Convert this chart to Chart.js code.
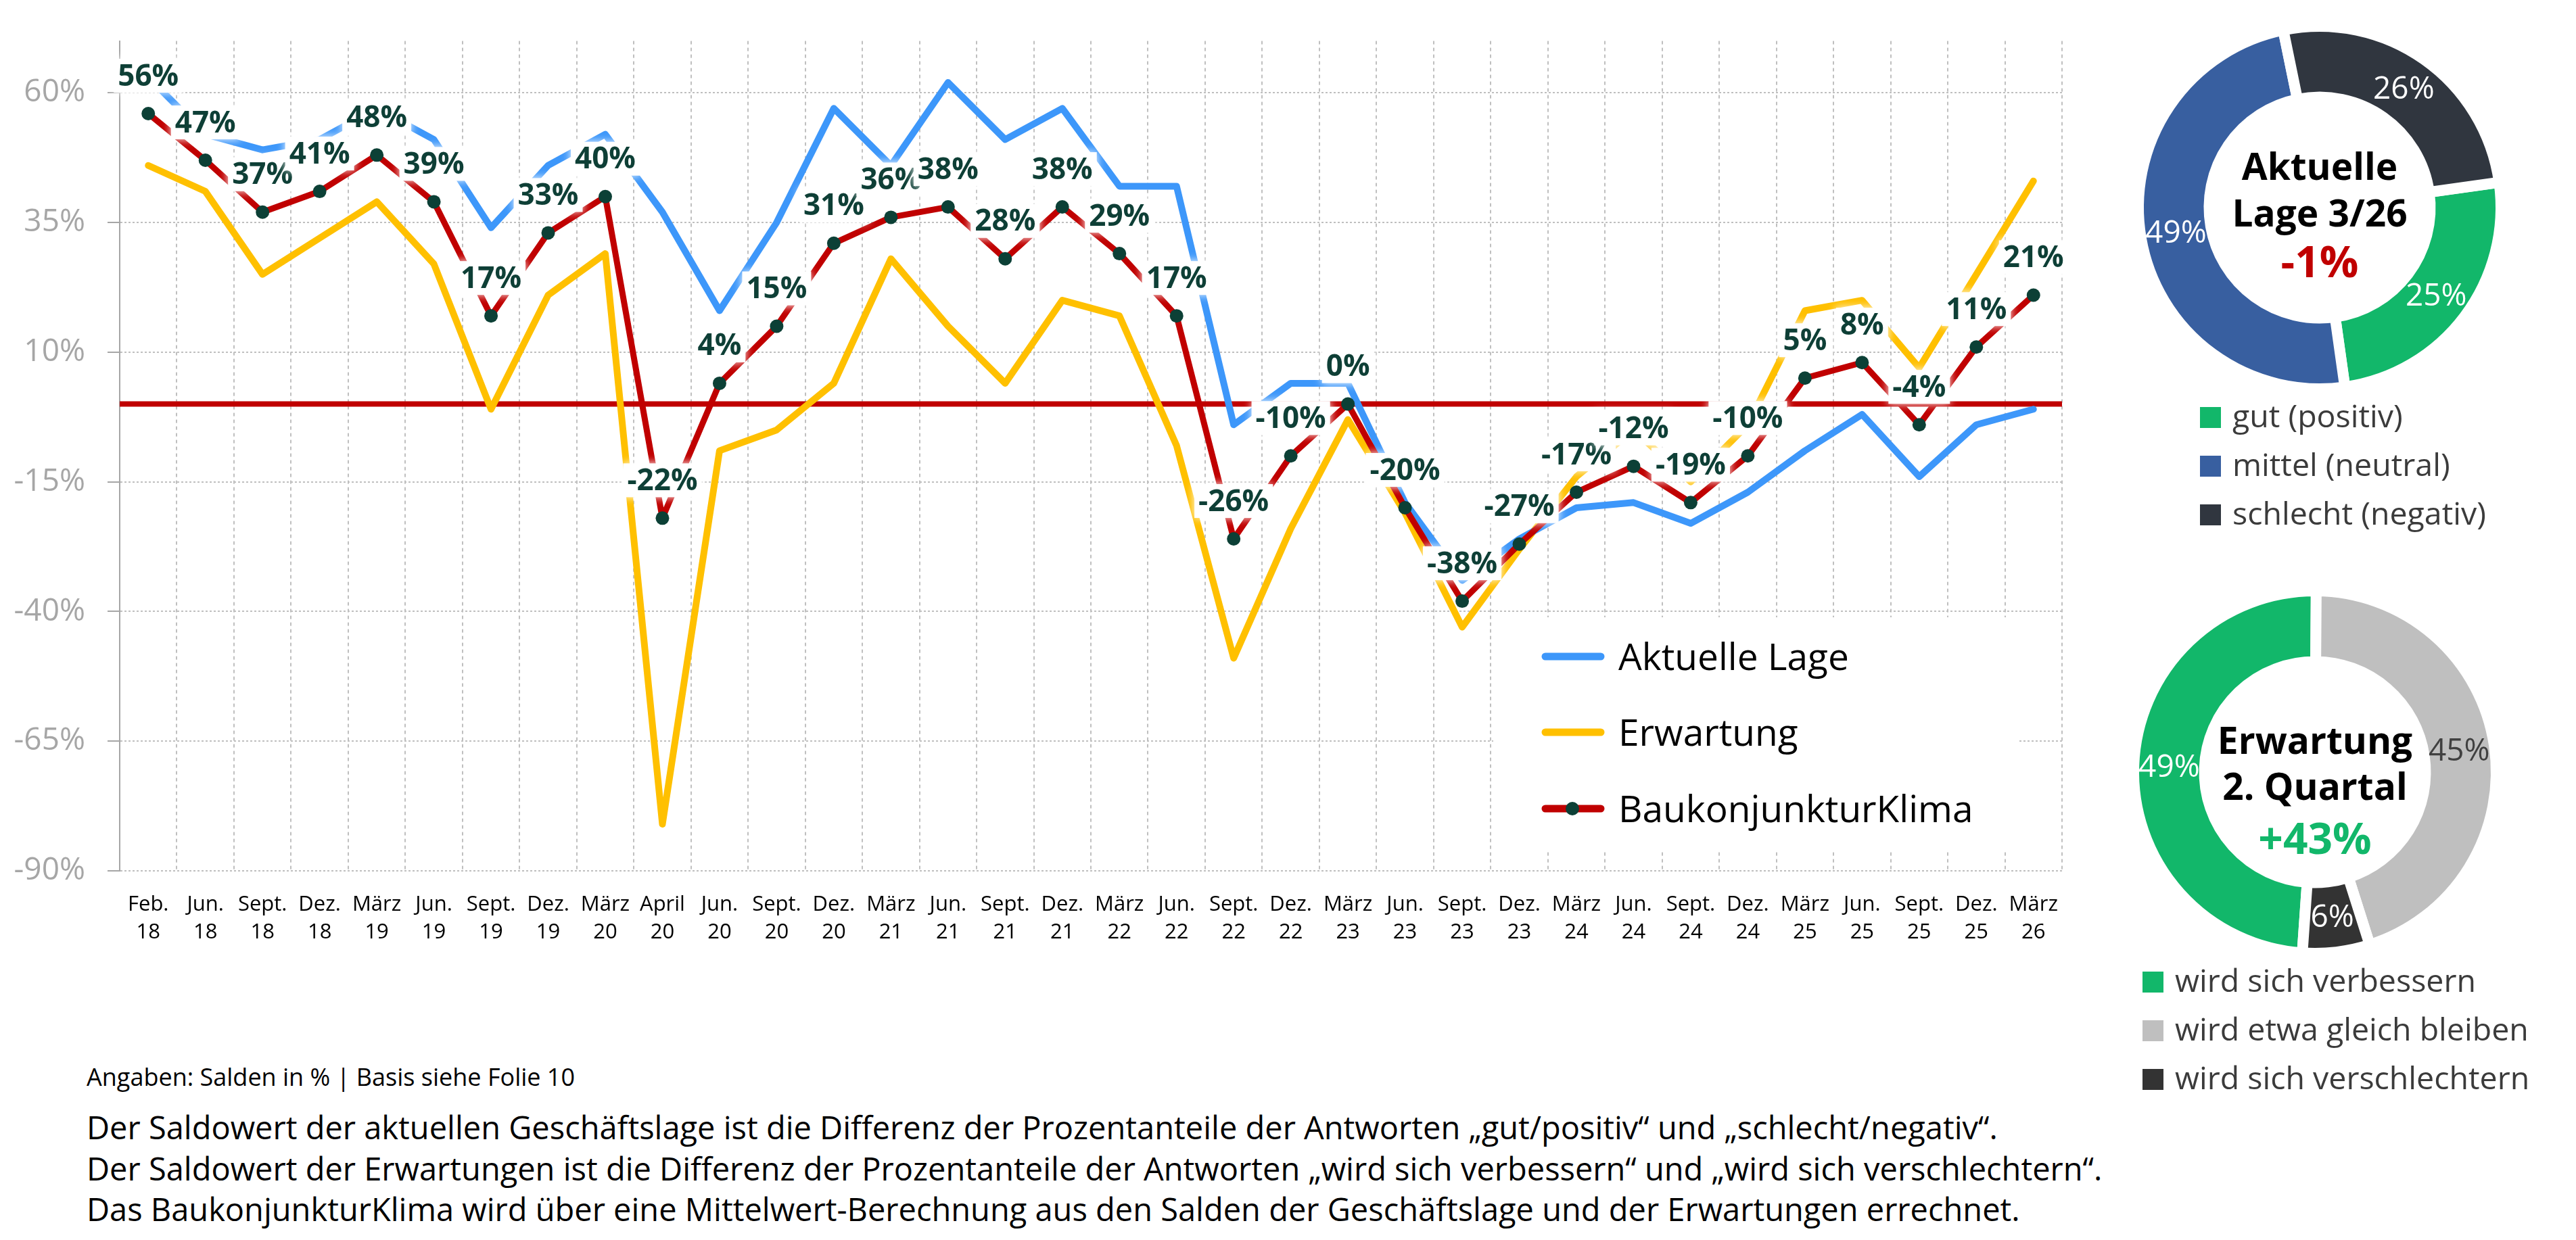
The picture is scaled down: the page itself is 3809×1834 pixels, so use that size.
<!DOCTYPE html>
<html lang="de">
<head>
<meta charset="utf-8">
<title>BaukonjunkturKlima</title>
<script src="https://cdn.jsdelivr.net/npm/chart.js@4.4.1/dist/chart.umd.min.js"></script>
<style>
  html, body { margin: 0; padding: 0; background: #fff; }
  body { width: 3809px; height: 1834px; position: relative; overflow: hidden; font-family: "Open Sans", sans-serif; }
  #hauptChart { position: absolute; left: 0; top: 0; }
  #lageChart { position: absolute; left: 3130px; top: 7px; }
  #erwChart { position: absolute; left: 3123px; top: 842px; }
  .fuss { position: absolute; left: 128px; color: #000; white-space: nowrap; }
  #angaben { top: 1569px; font-size: 36px; line-height: 48px; }
  #erklaerung { top: 1637px; font-size: 47px; line-height: 60.5px; }
</style>
</head>
<body>
<canvas id="hauptChart" width="3100" height="1420"></canvas>
<canvas id="lageChart" width="679" height="800"></canvas>
<canvas id="erwChart" width="686" height="800"></canvas>
<div class="fuss" id="angaben">Angaben: Salden in % | Basis siehe Folie 10</div>
<div class="fuss" id="erklaerung">Der Saldowert der aktuellen Geschäftslage ist die Differenz der Prozentanteile der Antworten „gut/positiv“ und „schlecht/negativ“.<br>Der Saldowert der Erwartungen ist die Differenz der Prozentanteile der Antworten „wird sich verbessern“ und „wird sich verschlechtern“.<br>Das BaukonjunkturKlima wird über eine Mittelwert-Berechnung aus den Salden der Geschäftslage und der Erwartungen errechnet.</div>

<script>
// Daten
const monate = ["Feb.", "Jun.", "Sept.", "Dez.", "März", "Jun.", "Sept.", "Dez.", "März", "April",
  "Jun.", "Sept.", "Dez.", "März", "Jun.", "Sept.", "Dez.", "März", "Jun.", "Sept.",
  "Dez.", "März", "Jun.", "Sept.", "Dez.", "März", "Jun.", "Sept.", "Dez.", "März",
  "Jun.", "Sept.", "Dez.", "März"];
const jahre = ["18", "18", "18", "18", "19", "19", "19", "19", "20", "20",
  "20", "20", "20", "21", "21", "21", "21", "22", "22", "22",
  "22", "23", "23", "23", "23", "24", "24", "24", "24", "25",
  "25", "25", "25", "26"];

const aktuelleLage = [63, 52, 49, 51, 57, 51, 34, 46, 52, 37, 18, 35, 57, 46, 62, 51, 57, 42, 42, -4,
  4, 4, -19, -34, -26, -20, -19, -23, -17, -9, -2, -14, -4, -1];
const erwartung = [46, 41, 25, 32, 39, 27, -1, 21, 29, -81, -9, -5, 4, 28, 15, 4, 20, 17, -8, -49,
  -24, -3, -21, -43, -28, -14, -5, -15, -4, 18, 20, 7, 25, 43];
const klima = [56, 47, 37, 41, 48, 39, 17, 33, 40, -22, 4, 15, 31, 36, 38, 28, 38, 29, 17, -26,
  -10, 0, -20, -38, -27, -17, -12, -19, -10, 5, 8, -4, 11, 21];

const yTicks = [-90, -65, -40, -15, 10, 35, 60];

// Donuts
const lageLabels = ["gut (positiv)", "mittel (neutral)", "schlecht (negativ)"];
const lageWerte = [25, 49, 26];
const lageSaldo = "-1%";
const erwLabels = ["wird sich verbessern", "wird etwa gleich bleiben", "wird sich verschlechtern"];
const erwWerte = [49, 45, 6];
const erwSaldo = "+43%";

// Farben
const BLAU = "#3D97FA";
const GELB = "#FFC000";
const ROT = "#C00000";
const PUNKT = "#0C4036";
const LABEL = "#0E3F36";
const SCHRIFT = '"Open Sans", sans-serif';

// Nulllinie
const nullLinie = {
  id: "nullLinie",
  beforeDatasetsDraw(chart) {
    const { ctx, chartArea, scales } = chart;
    const y = scales.y.getPixelForValue(0);
    ctx.save();
    ctx.strokeStyle = ROT;
    ctx.lineWidth = 8;
    ctx.beginPath();
    ctx.moveTo(chartArea.left, y);
    ctx.lineTo(chartArea.right, y);
    ctx.stroke();
    ctx.restore();
  },
};

// Legende im Diagrammbereich
const innenLegende = {
  id: "innenLegende",
  beforeDatasetsDraw(chart) {
    const { ctx, chartArea } = chart;
    const r = chartArea.right;
    const b = chartArea.bottom;
    ctx.save();
    ctx.fillStyle = "#fff";
    ctx.fillRect(r - 841, b - 375, 778, 343);

    const eintraege = [
      { ds: 1, y: b - 317 },
      { ds: 2, y: b - 205 },
      { ds: 0, y: b - 92 },
    ];
    ctx.font = "55px " + SCHRIFT;
    ctx.textAlign = "left";
    ctx.textBaseline = "alphabetic";
    eintraege.forEach((e) => {
      const ds = chart.data.datasets[e.ds];
      ctx.strokeStyle = ds.borderColor;
      ctx.lineWidth = 11;
      ctx.lineCap = "round";
      ctx.beginPath();
      ctx.moveTo(r - 764, e.y);
      ctx.lineTo(r - 682, e.y);
      ctx.stroke();
      if (ds.pointRadius > 0) {
        ctx.fillStyle = ds.pointBackgroundColor;
        ctx.beginPath();
        ctx.arc(r - 724, e.y, 10, 0, Math.PI * 2);
        ctx.fill();
      }
      ctx.fillStyle = "#000";
      ctx.fillText(ds.label, r - 656, e.y + 20);
    });
    ctx.restore();
  },
};

// Wertbeschriftung der Klima-Linie
const wertLabels = {
  id: "wertLabels",
  afterDatasetsDraw(chart) {
    const ctx = chart.ctx;
    const meta = chart.getDatasetMeta(0);
    ctx.save();
    ctx.font = "bold 44px " + SCHRIFT;
    ctx.textAlign = "center";
    ctx.textBaseline = "middle";
    meta.data.forEach((pt, i) => {
      const txt = klima[i] + "%";
      const w = ctx.measureText(txt).width + 12;
      const h = 50;
      const cy = pt.y - 56;
      ctx.shadowColor = "#fff";
      ctx.shadowBlur = 12;
      ctx.fillStyle = "#fff";
      ctx.fillRect(pt.x - w / 2, cy - h / 2, w, h);
      ctx.shadowBlur = 0;
      ctx.fillStyle = LABEL;
      ctx.fillText(txt, pt.x, cy + 2);
    });
    ctx.restore();
  },
};

new Chart(document.getElementById("hauptChart"), {
  type: "line",
  data: {
    labels: monate.map((m, i) => [m, jahre[i]]),
    datasets: [
      {
        label: "BaukonjunkturKlima",
        data: klima,
        borderColor: ROT,
        borderWidth: 9,
        pointRadius: 10,
        pointBackgroundColor: PUNKT,
        pointBorderWidth: 0,
        order: 0,
      },
      {
        label: "Aktuelle Lage",
        data: aktuelleLage,
        borderColor: BLAU,
        borderWidth: 10,
        pointRadius: 0,
        order: 1,
      },
      {
        label: "Erwartung",
        data: erwartung,
        borderColor: GELB,
        borderWidth: 10,
        pointRadius: 0,
        order: 2,
      },
    ],
  },
  options: {
    responsive: false,
    animation: false,
    devicePixelRatio: 1,
    events: [],
    layout: { padding: { top: 54, right: 51, left: 0, bottom: 0 } },
    elements: {
      line: { tension: 0, borderJoinStyle: "round", borderCapStyle: "round" },
    },
    scales: {
      x: {
        offset: true,
        grid: { offset: true, color: "#BFBFBF", lineWidth: 2, drawTicks: false },
        border: { display: false, dash: [5, 5] },
        ticks: {
          autoSkip: false,
          maxRotation: 0,
          padding: 29,
          color: "#000",
          font: { family: SCHRIFT, size: 31, lineHeight: 1.34 },
        },
        afterFit(scale) {
          scale.height = 132;
        },
      },
      y: {
        min: -90,
        max: 70,
        afterBuildTicks(scale) {
          scale.ticks = yTicks.map((v) => ({ value: v }));
        },
        grid: {
          color: "#BFBFBF",
          lineWidth: 2,
          tickLength: 18,
          tickColor: "#A6A6A6",
          tickWidth: 2,
          tickBorderDash: [],
        },
        border: { display: true, color: "#A6A6A6", width: 2, dash: [3, 3] },
        ticks: {
          padding: 33,
          color: "#A6A6A6",
          font: { family: SCHRIFT, size: 46 },
          callback: (v) => v + "%",
        },
        afterFit(scale) {
          scale.width = 177;
        },
      },
    },
    plugins: {
      legend: { display: false },
      tooltip: { enabled: false },
    },
  },
  plugins: [nullLinie, innenLegende, wertLabels],
});

// Donut mit Mitteltext und Legende
function donut(canvasId, labels, werte, farben, textFarben, rotation, titel, saldo, saldoFarbe, titelY, legendeX) {
  const mitte = {
    id: "mitte" + canvasId,
    afterDatasetsDraw(chart) {
      const ctx = chart.ctx;
      const meta = chart.getDatasetMeta(0);
      const cx = meta.data[0].x;
      const cy = meta.data[0].y;
      ctx.save();
      // Prozentwerte auf den Segmenten
      ctx.font = "46px " + SCHRIFT;
      ctx.textAlign = "center";
      ctx.textBaseline = "middle";
      meta.data.forEach((arc, i) => {
        const p = arc.tooltipPosition();
        ctx.fillStyle = textFarben[i];
        ctx.fillText(werte[i] + "%", p.x, p.y + 2);
      });
      // Titel
      ctx.fillStyle = "#000";
      ctx.font = "bold 55px " + SCHRIFT;
      ctx.fillText(titel[0], cx, cy + titelY[0]);
      ctx.fillText(titel[1], cx, cy + titelY[1]);
      ctx.fillStyle = saldoFarbe;
      ctx.font = "bold 64px " + SCHRIFT;
      ctx.fillText(saldo, cx, cy + titelY[2]);
      // Legende
      ctx.font = "46.5px " + SCHRIFT;
      ctx.textAlign = "left";
      labels.forEach((l, i) => {
        const y = 610 + i * 72;
        ctx.fillStyle = farben[i];
        ctx.fillRect(legendeX, y - 15, 31, 31);
        ctx.fillStyle = "#3B3B3B";
        ctx.fillText(l, legendeX + 48, y + 2);
      });
      ctx.restore();
    },
  };

  const canvas = document.getElementById(canvasId);
  new Chart(canvas, {
    type: "doughnut",
    data: {
      labels: labels,
      datasets: [
        {
          data: werte,
          backgroundColor: farben,
          borderColor: "#fff",
          borderWidth: 16,
          borderJoinStyle: "miter",
        },
      ],
    },
    options: {
      responsive: false,
      animation: false,
      devicePixelRatio: 1,
      events: [],
      rotation: rotation,
      radius: 268,
      cutout: "61%",
      layout: { padding: { left: 0, top: 0, right: canvas.width - 600, bottom: canvas.height - 600 } },
      plugins: {
        legend: { display: false },
        tooltip: { enabled: false },
      },
    },
    plugins: [mitte],
  });
}

donut("lageChart", lageLabels, lageWerte,
  ["#12B76A", "#385FA0", "#30363F"], ["#fff", "#fff", "#fff"],
  82, ["Aktuelle", "Lage 3/26"], lageSaldo, ROT, [-57, 12, 85], 123);

donut("erwChart", erwLabels, erwWerte,
  ["#12B76A", "#BFBFBF", "#333333"], ["#fff", "#404040", "#fff"],
  184, ["Erwartung", "2. Quartal"], erwSaldo, "#12B76A", [-43, 25, 103], 45);
</script>
</body>
</html>
